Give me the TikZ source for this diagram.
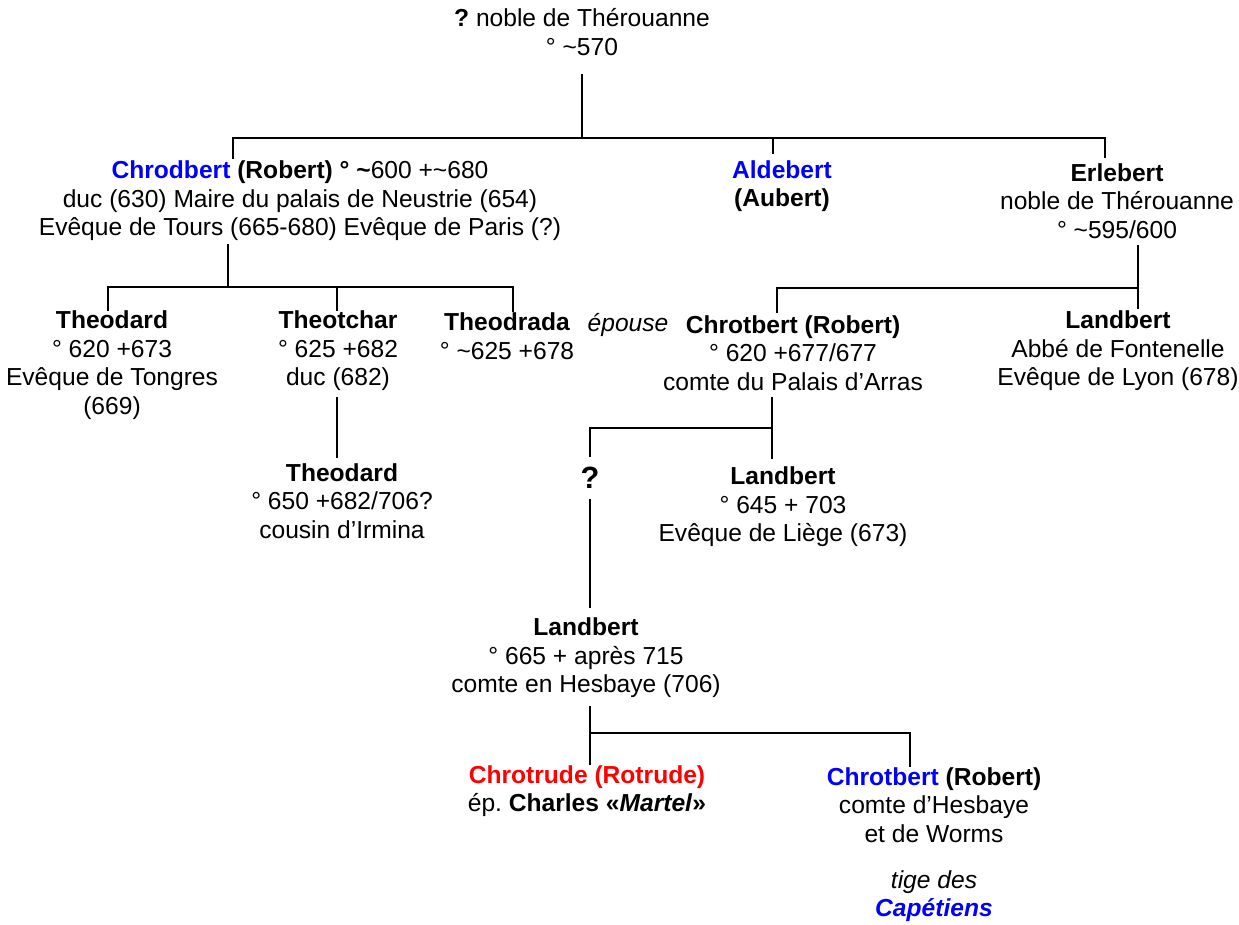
\documentclass[tikz,border=0pt]{standalone}
\usepackage{fontspec}
\setmainfont{Liberation Sans}
\usepackage{tikz}
\usepackage{xcolor}
\definecolor{robertcolor}{RGB}{0,0,255}
\definecolor{rotrudecolor}{RGB}{255,0,0}
\colorlet{linkcolor}{black}
\usetikzlibrary{
  calc,
}
\frenchspacing

\begin{document}
\begin{tikzpicture}[x=0.02cm,y=-0.02cm]
	\tikzstyle{every node}=[font=\fontsize{14}{16.2}\selectfont, align=center, inner sep=0pt]
	\tikzstyle{link}=[line width=1.15pt, linkcolor]
	\useasboundingbox (0,0) rectangle (1239,924);
	% first generation
	\node (ancetre) at (582,32) {\textbf{?} noble de Thérouanne\\° \textasciitilde570};
	\node (chrodbert) at (300,201) {\textcolor{robertcolor}{\textbf{Chrodbert}} \textbf{(Robert) ° \textasciitilde}600 +\textasciitilde680\\duc (630) Maire du palais de Neustrie (654)\\Evêque de Tours (665-680) Evêque de Paris (?)};
	\node (aldebert) at (782,186) {\textcolor{robertcolor}{\textbf{Aldebert}}\\\textbf{(Aubert)}};
	\node (erlebert) at (1117,201) {\textbf{Erlebert}\\noble de Thérouanne\\° \textasciitilde595/600};
	% second generation
	\node (theodard) at (112,365) {\textbf{Theodard}\\° 620 +673\\Evêque de Tongres\\(669)};
	\node (theotchar) at (338,351) {\textbf{Theotchar}\\° 625 +682\\duc (682)};
	\node (theodrada) at (507,336) {\textbf{Theodrada}\\° \textasciitilde625 +678};
	\node (epouse) at (628,325) {\textit{épouse}};
	\node (chrotbert) at (793,353) {\textbf{Chrotbert (Robert)}\\° 620 +677/677\\comte du Palais d’Arras};
	\node (landbertlyon) at (1118,351) {\textbf{Landbert}\\Abbé de Fontenelle\\Evêque de Lyon (678)};
	% third generation
	\node (theodard2) at (342,501) {\textbf{Theodard}\\° 650 +682/706?\\cousin d’Irmina};
	\node (inconnu) at (590,478) {\fontsize{17.5}{20}\selectfont\textbf{?}};
	\node (landbertliege) at (783,507) {\textbf{Landbert}\\° 645 + 703\\Evêque de Liège (673)};
	\node (landberthesbaye) at (586,658) {\textbf{Landbert}\\° 665 + après 715\\comte en Hesbaye (706)};
	% last generation
	\node (chrotrude) at (587,791) {\textcolor{rotrudecolor}{\textbf{Chrotrude (Rotrude)}}\\ép. \textbf{Charles «\textit{Martel}»}};
	\node (chrotbertworms) at (934,805) {\textcolor{robertcolor}{\textbf{Chrotbert}} \textbf{(Robert)}\\comte d’Hesbaye\\et de Worms};
	\node (capetiens) at (934,896) {\textit{tige des}\\\textcolor{robertcolor}{\textbf{\textit{Capétiens}}}};
	% lines of the first generation
	\coordinate (bar1w) at (233,138);
	\coordinate (bar1m) at (773,138);
	\coordinate (bar1e) at (1105,138);
	\draw[link] ($(ancetre.south)+(0,18)$) -- (ancetre.south |- bar1w);
	\draw[link] ($(bar1w |- chrodbert.north)+(0,-2)$) |- (bar1e) -- ($(bar1e |- erlebert.north)+(0,-5)$);
	\draw[link] (bar1m) -- ($(bar1m |- aldebert.north)+(0,-6)$);
	% Chrodbert's children
	\coordinate (bar2w) at (108,287);
	\coordinate (bar2m) at (228,287);
	\coordinate (bar2t) at (337,287);
	\coordinate (bar2e) at (513,287);
	\draw[link] ($(bar2m |- chrodbert.south)+(0,3)$) -- (bar2m);
	\draw[link] (bar2w |- theodard.north) |- (bar2e) -- (bar2e |- theodrada.north);
	\draw[link] (bar2t) -- (bar2t |- theotchar.north);
	\draw[link] ($(bar2t |- theotchar.south)+(0,6)$) -- ($(bar2t |- theodard2.north)+(0,-5)$);
	% Erlebert's sons
	\coordinate (bar3w) at (777,288);
	\coordinate (bar3e) at (1138,288);
	\draw[link] ($(bar3e |- erlebert.south)+(0,6)$) -- ($(bar3e |- landbertlyon.north)+(0,-2)$);
	\draw[link] (bar3e) -- (bar3w) -- ($(bar3w |- chrotbert.north)+(0,-2)$);
	% Chrotbert's sons
	\coordinate (bar4w) at (590,428);
	\coordinate (bar4e) at (772,428);
	\draw[link] ($(bar4e |- chrotbert.south)+(0,6)$) -- ($(bar4e |- landbertliege.north)+(0,-8)$);
	\draw[link] (bar4e) -- (bar4w) -- ($(bar4w |- inconnu.north)+(0,-10)$);
	\draw[link] ($(inconnu.south)+(0,10)$) -- ($(inconnu.south |- landberthesbaye.north)+(0,-10)$);
	% Landbert's children
	\coordinate (bar5w) at (590,733);
	\coordinate (bar5e) at (910,733);
	\draw[link] ($(bar5w |- landberthesbaye.south)+(0,8)$) -- (bar5w |- chrotrude.north);
	\draw[link] (bar5w) -- (bar5e) -- (bar5e |- chrotbertworms.north);
\end{tikzpicture}
\end{document}
